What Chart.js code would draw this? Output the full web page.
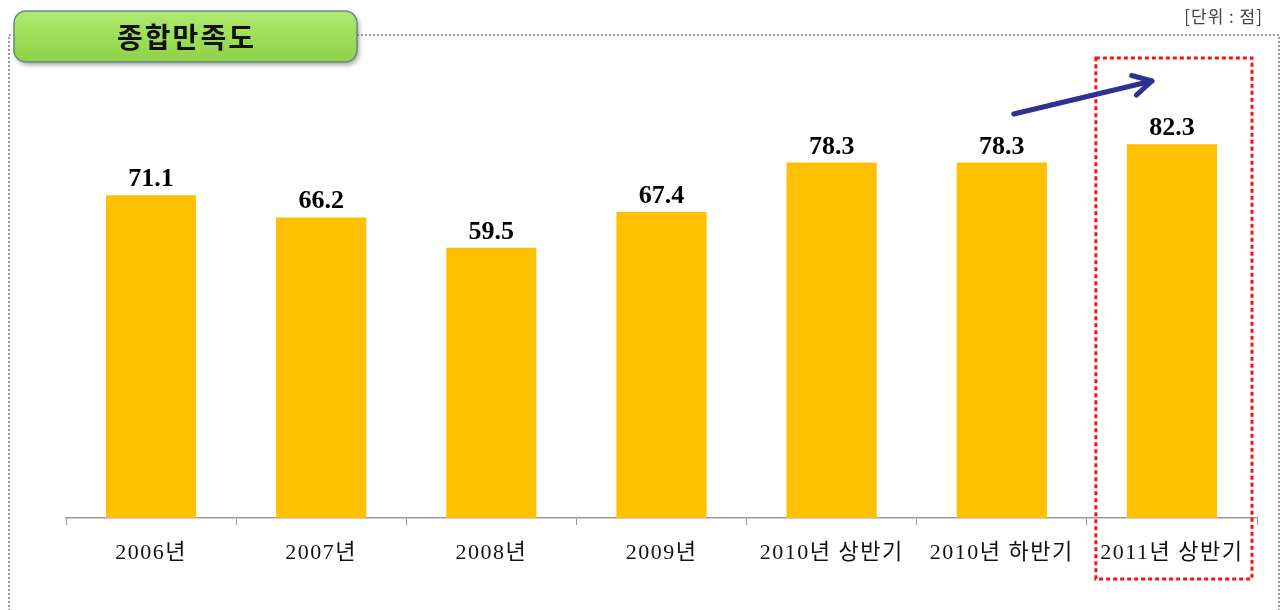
<!DOCTYPE html>
<html>
<head>
<meta charset="utf-8">
<script src="https://cdn.jsdelivr.net/npm/chart.js@4"></script>
<style>
  html, body { margin: 0; padding: 0; background: #fff; }
  #wrap { width: 1287px; height: 610px; position: relative; }
</style>
</head>
<body>
<div id="wrap"><canvas id="satisfactionChart" width="1287" height="610"></canvas></div>
<script>
// data
const categories = ['2006년', '2007년', '2008년', '2009년', '2010년 상반기', '2010년 하반기', '2011년 상반기'];
const scores = [71.1, 66.2, 59.5, 67.4, 78.3, 78.3, 82.3];
const titleText = '종합만족도';
const unitText = '[단위 : 점]';

const serif = '"Liberation Serif", "Times New Roman", "Noto Sans CJK KR", serif';
const gothic = '"Noto Sans CJK KR", "Noto Sans", sans-serif';

// background decorations: dotted frame, title badge, unit label
const framePlugin = {
  id: 'frame',
  beforeDraw(chart) {
    const ctx = chart.ctx;
    ctx.save();
    // dotted gray frame
    ctx.strokeStyle = '#9a9a9a';
    ctx.lineWidth = 2;
    ctx.setLineDash([2, 2]);
    ctx.strokeRect(9, 35, 1270, 600);
    ctx.setLineDash([]);

    // title badge with shadow
    const bx = 14, by = 11, bw = 343, bh = 51, r = 12;
    ctx.shadowColor = 'rgba(0,0,0,0.35)';
    ctx.shadowBlur = 5;
    ctx.shadowOffsetX = 2;
    ctx.shadowOffsetY = 3;
    const grad = ctx.createLinearGradient(0, by, 0, by + bh);
    grad.addColorStop(0, '#b2e872');
    grad.addColorStop(0.45, '#9fe05a');
    grad.addColorStop(1, '#8fd148');
    ctx.fillStyle = grad;
    ctx.beginPath();
    ctx.roundRect(bx, by, bw, bh, r);
    ctx.fill();
    ctx.shadowColor = 'transparent';
    ctx.strokeStyle = '#5f8a86';
    ctx.lineWidth = 1.5;
    ctx.stroke();

    ctx.fillStyle = '#111';
    ctx.font = 'bold 28px ' + gothic;
    ctx.letterSpacing = '2px';
    ctx.textAlign = 'center';
    ctx.textBaseline = 'middle';
    ctx.fillText(titleText, bx + bw / 2 + 1, by + bh / 2 + 1);

    // unit label
    ctx.fillStyle = '#444';
    ctx.font = '17px ' + gothic;
    ctx.letterSpacing = '1px';
    ctx.textAlign = 'right';
    ctx.fillText(unitText, 1263, 17);
    ctx.restore();
    // wider spacing for the category labels drawn by the x scale
    ctx.letterSpacing = '1.5px';
  },
  beforeDatasetsDraw(chart) {
    chart.ctx.letterSpacing = '0px';
  },
  afterDraw(chart) {
    const ctx = chart.ctx;
    const x = chart.scales.x;
    const meta = chart.getDatasetMeta(0);
    ctx.save();
    ctx.letterSpacing = '0px';

    // value labels above bars
    ctx.fillStyle = '#000';
    ctx.font = 'bold 26px ' + serif;
    ctx.textAlign = 'center';
    ctx.textBaseline = 'alphabetic';
    meta.data.forEach((bar, i) => {
      ctx.fillText(scores[i].toFixed(1), bar.x, bar.y - 9);
    });

    // red dotted box around the last category
    const last = categories.length - 1;
    const half = (x.getPixelForValue(1) - x.getPixelForValue(0)) / 2;
    const cx = x.getPixelForValue(last);
    ctx.strokeStyle = '#ff1010';
    ctx.lineWidth = 3;
    ctx.setLineDash([4, 3]);
    ctx.strokeRect(cx - half + 9, 58, half * 2 - 14, 521);
    ctx.setLineDash([]);

    // trend arrow
    const p5 = meta.data[last - 1], p6 = meta.data[last];
    const x1 = p5.x + 12, y1 = 114, x2 = p6.x - 20, y2 = 81;
    ctx.strokeStyle = '#2f3192';
    ctx.lineWidth = 5;
    ctx.lineCap = 'round';
    ctx.lineJoin = 'round';
    ctx.beginPath();
    ctx.moveTo(x1, y1);
    ctx.lineTo(x2, y2);
    ctx.stroke();
    const ang = Math.atan2(y2 - y1, x2 - x1);
    const hl = 21;
    ctx.beginPath();
    ctx.moveTo(x2 - hl * Math.cos(ang - 0.5), y2 - hl * Math.sin(ang - 0.5));
    ctx.lineTo(x2, y2);
    ctx.lineTo(x2 - hl * Math.cos(ang + 0.5), y2 - hl * Math.sin(ang + 0.5));
    ctx.stroke();
    ctx.restore();
  }
};

new Chart(document.getElementById('satisfactionChart'), {
  type: 'bar',
  data: {
    labels: categories,
    datasets: [{
      label: titleText,
      data: scores,
      backgroundColor: '#ffc000',
      borderWidth: 0,
      categoryPercentage: 1,
      barPercentage: 0.53
    }]
  },
  options: {
    responsive: false,
    animation: false,
    devicePixelRatio: 1,
    layout: { padding: { top: 64, left: 66, right: 30, bottom: 0 } },
    plugins: {
      legend: { display: false },
      tooltip: { enabled: false }
    },
    scales: {
      y: { display: false, min: 0, max: 100 },
      x: {
        afterFit(scale) { scale.height = 92; },
        grid: {
          offset: true,
          drawOnChartArea: false,
          drawTicks: true,
          tickLength: 7,
          color: '#999'
        },
        border: { color: '#999', width: 1.5 },
        ticks: {
          color: '#111',
          padding: 15,
          maxRotation: 0,
          autoSkip: false,
          font: { family: serif, size: 22 }
        }
      }
    }
  },
  plugins: [framePlugin]
});
</script>
</body>
</html>
